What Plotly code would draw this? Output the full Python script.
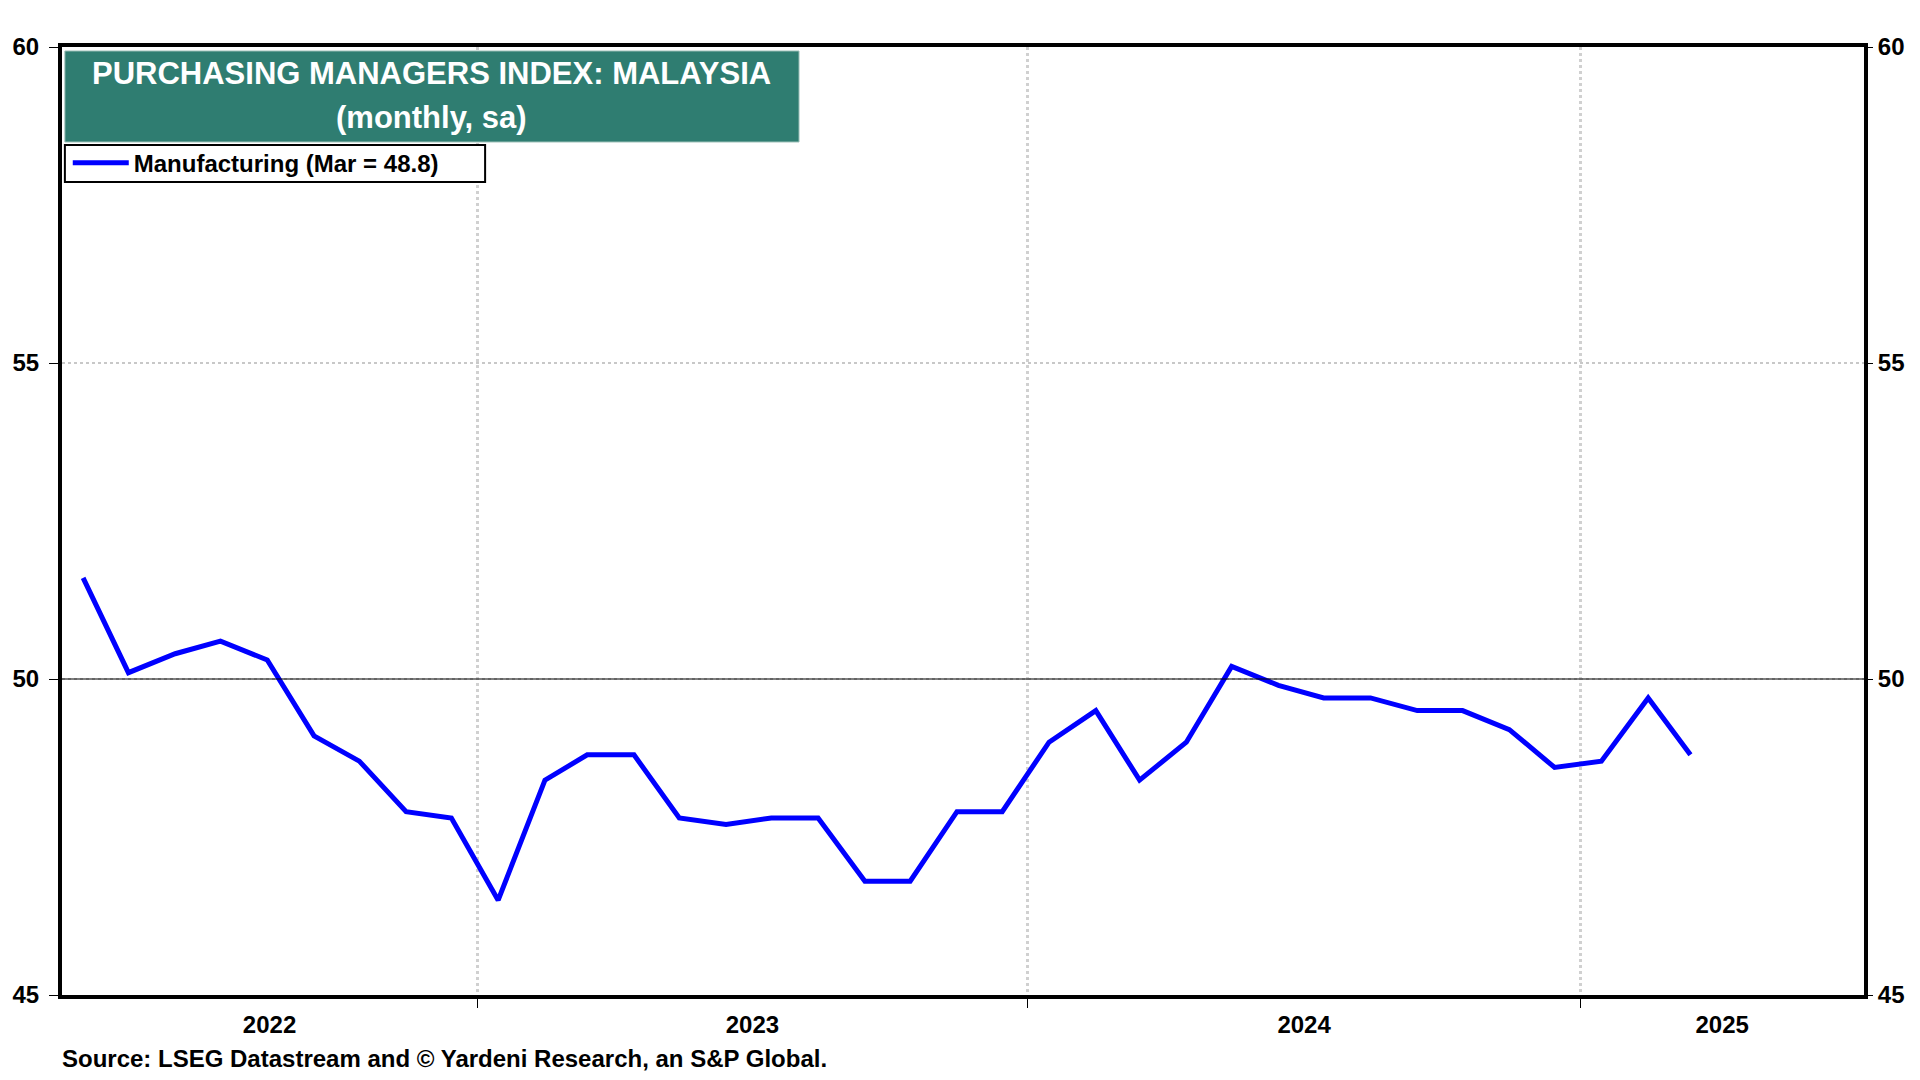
import plotly.graph_objects as go
import pandas as pd

# Malaysia manufacturing PMI, monthly, sa (Apr 2022 - Mar 2025)
months = pd.date_range("2022-04-01", "2025-03-01", freq="MS") + pd.Timedelta(days=14)
pmi = [51.6, 50.1, 50.4, 50.6, 50.3, 49.1, 48.7, 47.9, 47.8,
       46.5, 48.4, 48.8, 48.8, 47.8, 47.7, 47.8, 47.8, 46.8, 46.8, 47.9, 47.9,
       49.0, 49.5, 48.4, 49.0, 50.2, 49.9, 49.7, 49.7, 49.5, 49.5, 49.2, 48.6,
       48.7, 49.7, 48.8]
last_label = "Mar"

years = [2022, 2023, 2024, 2025]
y_ticks = [45, 50, 55, 60]
neutral = 50

x_start = pd.Timestamp("2022-04-01")
x_end = pd.Timestamp("2025-07-08")
year_starts = [pd.Timestamp(f"{y}-01-01") for y in years[1:]]

# year labels centred on the visible part of each year
year_mids = []
for y in years:
    a = max(pd.Timestamp(f"{y}-01-01"), x_start)
    b = min(pd.Timestamp(f"{y + 1}-01-01"), x_end)
    year_mids.append(a + (b - a) / 2)

FONT = "Liberation Sans"
TEAL = "#2F7D71"

fig = go.Figure()
fig.add_trace(go.Scatter(
    x=months, y=pmi, mode="lines",
    line=dict(color="#0000FF", width=5),
    name=f"Manufacturing ({last_label} = {pmi[-1]})",
))
# invisible trace so the secondary axes (year labels, right ticks) get drawn
fig.add_trace(go.Scatter(
    x=months, y=pmi, mode="lines", opacity=0, showlegend=False,
    hoverinfo="skip", xaxis="x2", yaxis="y2",
))

tickfont = dict(family=FONT, size=24, color="black", weight="bold")

# page body adds 8px, so the figure is 16px smaller than the window
fig.update_layout(
    width=1904, height=1064,
    margin=dict(l=54, r=48, t=39, b=77),
    paper_bgcolor="white", plot_bgcolor="white",
    font=dict(family=FONT, color="black"),
    showlegend=True,
    legend=dict(
        x=0.0032, y=0.8776, xanchor="left", yanchor="middle",
        bgcolor="rgba(0,0,0,0)", borderwidth=0,
        font=dict(family=FONT, size=24, color="black", weight="bold"),
        tracegroupgap=0, itemwidth=56,
    ),
    xaxis=dict(
        type="date", range=[x_start, x_end], automargin=False,
        tickvals=year_starts, ticktext=["" for _ in year_starts],
        ticks="outside", ticklen=9, tickwidth=1, tickcolor="black",
        showgrid=True, gridcolor="#d0d0d0", gridwidth=2.5, griddash="dot",
        showline=True, linewidth=4, linecolor="black", mirror=True,
        zeroline=False,
    ),
    xaxis2=dict(
        type="date", range=[x_start, x_end], overlaying="x", anchor="y2",
        side="bottom", automargin=False,
        tickvals=year_mids, ticktext=[str(y) for y in years],
        ticks="outside", ticklen=8, tickcolor="rgba(0,0,0,0)",
        tickfont=tickfont, showgrid=False, showline=False, zeroline=False,
    ),
    yaxis=dict(
        range=[45, 60], tickvals=y_ticks, automargin=False,
        ticks="outside", ticklen=9, tickwidth=1, tickcolor="black",
        tickfont=tickfont, ticklabelstandoff=5,
        showgrid=True, gridcolor="#c8c8c8", gridwidth=1.5, griddash="dot",
        showline=True, linewidth=4, linecolor="black", mirror=True,
        zeroline=False,
    ),
    yaxis2=dict(
        range=[45, 60], tickvals=y_ticks, overlaying="y", side="right",
        anchor="x2", automargin=False,
        ticks="outside", ticklen=8, tickwidth=1, tickcolor="black",
        tickfont=tickfont, showgrid=False, zeroline=False, showline=False,
    ),
)

# neutral 50 line
fig.add_shape(type="line", xref="paper", yref="y", x0=0, x1=1,
              y0=neutral, y1=neutral, line=dict(color="black", width=1.2),
              layer="above")

# title box
fig.add_shape(type="rect", xref="paper", yref="paper",
              x0=0.0016, x1=0.4090, y0=0.8998, y1=0.9958,
              fillcolor=TEAL, line=dict(color="#9dbfb8", width=1), layer="above")
fig.add_annotation(xref="paper", yref="paper", x=0.2053, y=0.9725,
                   text="PURCHASING MANAGERS INDEX: MALAYSIA", showarrow=False,
                   xanchor="center", yanchor="middle",
                   font=dict(family=FONT, size=31, color="white", weight="bold"))
fig.add_annotation(xref="paper", yref="paper", x=0.2053, y=0.926,
                   text="(monthly, sa)", showarrow=False,
                   xanchor="center", yanchor="middle",
                   font=dict(family=FONT, size=31, color="white", weight="bold"))

# legend frame
fig.add_shape(type="rect", xref="paper", yref="paper",
              x0=0.0016, x1=0.2348, y0=0.8576, y1=0.8966,
              fillcolor="white", line=dict(color="black", width=2), layer="above")

# source line
fig.add_annotation(xref="paper", yref="paper", x=-0.0011, y=-0.0675,
                   text="Source: LSEG Datastream and © Yardeni Research, an S&P Global.",
                   showarrow=False, xanchor="left", yanchor="middle",
                   font=dict(family=FONT, size=24, color="black", weight="bold"))

fig.write_html("out.html")
